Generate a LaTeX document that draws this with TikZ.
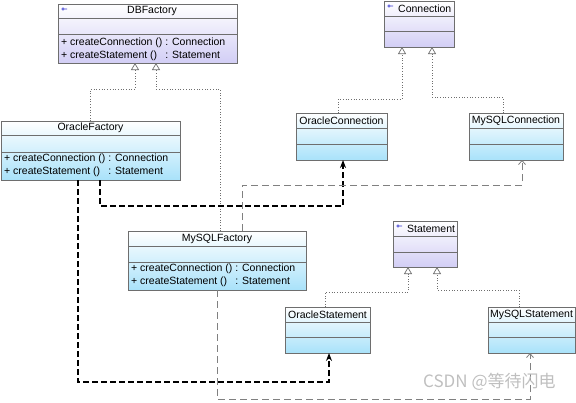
\documentclass[tikz,border=0pt]{standalone}
\usepackage{fontspec}
\setmainfont{Liberation Sans}
\newfontfamily\cjkfont{Noto Sans CJK SC}
\usetikzlibrary{arrows.meta,calc}
\definecolor{boxline}{HTML}{6E6E6E}
\definecolor{ifacefill}{HTML}{D2CEF5}
\definecolor{implfill}{HTML}{A9E2FA}
\definecolor{linkgray}{HTML}{808080}
\definecolor{iconblue}{HTML}{3B3BD0}
\begin{document}
\begin{tikzpicture}[x=1pt,y=-1pt,
	iface/.style={draw=boxline,top color=white,bottom color=ifacefill,anchor=north west,inner sep=0pt,outer sep=0pt},
	impl/.style={draw=boxline,top color=white,bottom color=implfill,anchor=north west,inner sep=0pt,outer sep=0pt},
	sep/.style={draw=boxline},
	icon/.style={draw=iconblue,line width=0.6pt},
	cname/.style={font=\fontsize{10.5}{13}\selectfont,inner sep=0pt},
	ops/.style={font=\fontsize{10.5}{13}\selectfont,inner sep=0pt,anchor=west},
	realize/.style={draw=boxline,dotted,line width=0.7pt,-{Triangle[open,length=7pt,width=8pt,fill=white]}},
	creates/.style={draw=black,line width=1.8pt,dash pattern=on 6pt off 3pt,-{Stealth[length=8pt,width=6pt]}},
	uses/.style={draw=linkgray,line width=0.8pt,dash pattern=on 7pt off 4pt,-{Straight Barb[length=4pt,width=7pt]}}]
			\useasboundingbox (0,0) rectangle (576,402);
			
			%One class: DBFactory
			\def\x{58}
			\def\y{4}
			\node[iface,minimum width=179pt,minimum height=59pt] (dbf) at (\x,\y) {};
			\draw[sep] (\x,\y+14) -- (\x+179,\y+14);
			\draw[sep] (\x,\y+30) -- (\x+179,\y+30);
			\draw[icon] (\x+5,\y+5) circle (1.3pt) (\x+6.3,\y+5) -- (\x+9,\y+5);
			\node[cname] (dbfname) at (\x+94,\y+7) {DBFactory};
			\node[ops] (dbfops) at (\x+3,\y+45.5) {\begin{tabular}{@{}l@{ }l@{}}+ createConnection () & : Connection\\+ createStatement () & : Statement\end{tabular}};
			
			%One class: OracleFactory
			\def\x{1}
			\def\y{121}
			\node[impl,minimum width=179pt,minimum height=59pt] (ofa) at (\x,\y) {};
			\draw[sep] (\x,\y+14) -- (\x+179,\y+14);
			\draw[sep] (\x,\y+31) -- (\x+179,\y+31);
			\node[cname] (ofaname) at (\x+89.5,\y+7) {OracleFactory};
			\node[ops] (ofaops) at (\x+3,\y+44.5) {\begin{tabular}{@{}l@{ }l@{}}+ createConnection () & : Connection\\+ createStatement () & : Statement\end{tabular}};
			
			%One class: MySQLFactory
			\def\x{128}
			\def\y{231}
			\node[impl,minimum width=178pt,minimum height=59pt] (mfa) at (\x,\y) {};
			\draw[sep] (\x,\y+15) -- (\x+178,\y+15);
			\draw[sep] (\x,\y+31) -- (\x+178,\y+31);
			\node[cname] (mfaname) at (\x+89,\y+7.5) {MySQLFactory};
			\node[ops] (mfaops) at (\x+3,\y+44.5) {\begin{tabular}{@{}l@{ }l@{}}+ createConnection () & : Connection\\+ createStatement () & : Statement\end{tabular}};
			
			%One class: Connection
			\def\x{384}
			\def\y{1}
			\node[iface,minimum width=70pt,minimum height=46pt] (con) at (\x,\y) {};
			\draw[sep] (\x,\y+15) -- (\x+70,\y+15);
			\draw[sep] (\x,\y+30) -- (\x+70,\y+30);
			\draw[icon] (\x+5,\y+5) circle (1.3pt) (\x+6.3,\y+5) -- (\x+9,\y+5);
			\node[cname,anchor=west] (conname) at (\x+14,\y+7.5) {Connection};
			
			%One class: OracleConnection
			\def\x{296}
			\def\y{113}
			\node[impl,minimum width=91pt,minimum height=47pt] (oc) at (\x,\y) {};
			\draw[sep] (\x,\y+15) -- (\x+91,\y+15);
			\draw[sep] (\x,\y+31) -- (\x+91,\y+31);
			\node[cname] (ocname) at (\x+45.5,\y+7.5) {OracleConnection};
			
			%One class: MySQLConnection
			\def\x{469}
			\def\y{113}
			\node[impl,minimum width=94pt,minimum height=47pt] (mc) at (\x,\y) {};
			\draw[sep] (\x,\y+15) -- (\x+94,\y+15);
			\draw[sep] (\x,\y+31) -- (\x+94,\y+31);
			\node[cname] (mcname) at (\x+47,\y+7.5) {MySQLConnection};
			
			%One class: Statement
			\def\x{393}
			\def\y{221}
			\node[iface,minimum width=64pt,minimum height=46pt] (st) at (\x,\y) {};
			\draw[sep] (\x,\y+15) -- (\x+64,\y+15);
			\draw[sep] (\x,\y+31) -- (\x+64,\y+31);
			\draw[icon] (\x+5,\y+5) circle (1.3pt) (\x+6.3,\y+5) -- (\x+9,\y+5);
			\node[cname,anchor=west] (stname) at (\x+14,\y+7.5) {Statement};
			
			%One class: OracleStatement
			\def\x{285}
			\def\y{307}
			\node[impl,minimum width=85pt,minimum height=46pt] (os) at (\x,\y) {};
			\draw[sep] (\x,\y+15) -- (\x+85,\y+15);
			\draw[sep] (\x,\y+30) -- (\x+85,\y+30);
			\node[cname] (osname) at (\x+42.5,\y+7.5) {OracleStatement};
			
			%One class: MySQLStatement
			\def\x{488}
			\def\y{307}
			\node[impl,minimum width=87pt,minimum height=46pt] (ms) at (\x,\y) {};
			\draw[sep] (\x,\y+15) -- (\x+87,\y+15);
			\draw[sep] (\x,\y+30) -- (\x+87,\y+30);
			\node[cname] (msname) at (\x+43.5,\y+7.5) {MySQLStatement};
			
			%realisations
			\draw[realize] (ofa.north) -- ++(0,-32) -| ($(dbf.south west)+(77,0)$);
			\draw[realize] ($(mfa.north west)+(92,0)$) -- ++(0,-142) -| ($(dbf.south west)+(98,0)$);
			\draw[realize] ($(oc.north west)+(42,0)$) -- ++(0,-14) -| ($(con.south west)+(18,0)$);
			\draw[realize] ($(mc.north west)+(34,0)$) -- ++(0,-16) -| ($(con.south west)+(48,0)$);
			\draw[realize] ($(os.north west)+(40,0)$) -- ++(0,-15) -| ($(st.south west)+(15,0)$);
			\draw[realize] ($(ms.north west)+(31,0)$) -- ++(0,-17) -| ($(st.south west)+(44,0)$);
			
			%dependencies
			\draw[creates] ($(ofa.south west)+(99,0)$) -- ++(0,26) -| ($(oc.south west)+(47,0)$);
			\draw[creates] ($(ofa.south west)+(77,0)$) -- ++(0,202) -| ($(os.south west)+(44,0)$);
			\draw[uses] ($(mfa.north west)+(114,0)$) -- ++(0,-46) -| ($(mc.south west)+(53,0)$);
			\draw[uses] ($(mfa.south west)+(89,0)$) -- ++(0,109) -| ($(ms.south west)+(42,0)$);
			
			%watermark
			\node[anchor=west,inner sep=0pt,text=gray!50,font=\cjkfont\fontsize{17}{17}\selectfont] (mark) at (423,382) {CSDN @等待闪电};
		\end{tikzpicture}
\end{document}
